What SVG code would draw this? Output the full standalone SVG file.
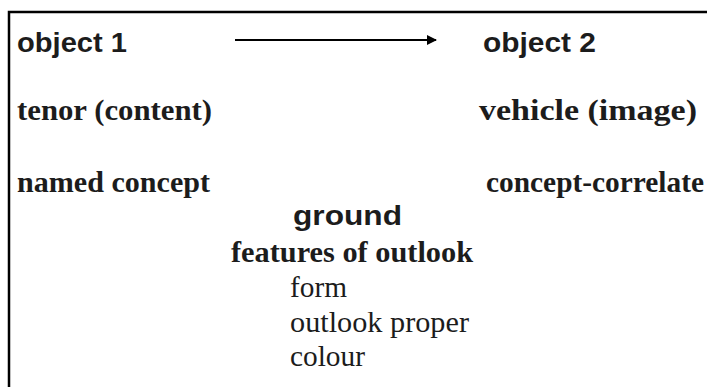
<svg xmlns="http://www.w3.org/2000/svg" width="707" height="387" viewBox="0 0 707 387">
<style>
.sans{font-family:'Liberation Sans',Arimo,Arial,Helvetica,sans-serif;font-weight:bold;font-size:28px;fill:#1c1c1c}
.serifb{font-family:'Liberation Serif',Tinos,'Times New Roman',Times,serif;font-weight:bold;font-size:29px;fill:#1c1c1c}
.serif{font-family:'Liberation Serif',Tinos,'Times New Roman',Times,serif;font-size:29px;fill:#1c1c1c}
.frame{stroke:#000;stroke-width:2.5;fill:none}
.conn{stroke:#000;stroke-width:2;fill:none}
</style>
<defs>
<marker id="ah" markerWidth="10" markerHeight="10" refX="9" refY="5" orient="auto" markerUnits="userSpaceOnUse">
<path d="M0,0 L10,5 L0,10 Z" fill="#000"/>
</marker>
</defs>
<rect width="707" height="387" fill="#fff"/>
<path class="frame" d="M9,387 V12 H707"/>
<g id="connectors">
<line class="conn" x1="235" y1="40" x2="436" y2="40" marker-end="url(#ah)"/>
</g>
<g id="object1"><text class="sans" x="17" y="52" textLength="110" lengthAdjust="spacingAndGlyphs">object 1</text></g>
<g id="object2"><text class="sans" x="483" y="52" textLength="113" lengthAdjust="spacingAndGlyphs">object 2</text></g>
<g id="tenor"><text class="serifb" x="17" y="120" textLength="195" lengthAdjust="spacingAndGlyphs">tenor (content)</text></g>
<g id="vehicle"><text class="serifb" x="479" y="120" textLength="218" lengthAdjust="spacingAndGlyphs">vehicle (image)</text></g>
<g id="named-concept"><text class="serifb" x="17" y="192" textLength="193" lengthAdjust="spacingAndGlyphs">named concept</text></g>
<g id="concept-correlate"><text class="serifb" x="486" y="192" textLength="218" lengthAdjust="spacingAndGlyphs">concept-correlate</text></g>
<g id="ground">
<text class="sans" x="293" y="225" textLength="109" lengthAdjust="spacingAndGlyphs">ground</text>
<text class="serifb" x="231" y="262" textLength="242" lengthAdjust="spacingAndGlyphs">features of outlook</text>
<text class="serif" x="290" y="297" textLength="57" lengthAdjust="spacingAndGlyphs">form</text>
<text class="serif" x="290" y="332" textLength="179" lengthAdjust="spacingAndGlyphs">outlook proper</text>
<text class="serif" x="290" y="366" textLength="75" lengthAdjust="spacingAndGlyphs">colour</text>
</g>
</svg>
